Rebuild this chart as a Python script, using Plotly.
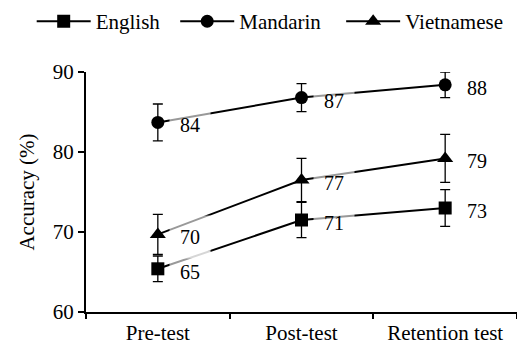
import plotly.graph_objects as go

categories = ["Pre-test", "Post-test", "Retention test"]
series_names = ["English", "Mandarin", "Vietnamese"]
english = [65.4, 71.5, 73.0]
english_err = [1.6, 2.2, 2.3]
mandarin = [83.7, 86.8, 88.4]
mandarin_err = [2.3, 1.75, 1.6]
vietnamese = [69.7, 76.5, 79.2]
vietnamese_err = [2.5, 2.7, 3.0]
english_labels = ["65", "71", "73"]
mandarin_labels = ["84", "87", "88"]
vietnamese_labels = ["70", "77", "79"]
symbols = ["square", "circle", "triangle-up"]

FONT = "Liberation Serif"
legend_ids = ["legend", "legend2", "legend3"]
legend_x = [-0.126, 0.207, 0.592]

fig = go.Figure()
data = [
    (english, english_err, english_labels),
    (mandarin, mandarin_err, mandarin_labels),
    (vietnamese, vietnamese_err, vietnamese_labels),
]
for name, sym, lid, (vals, errs, labs) in zip(series_names, symbols, legend_ids, data):
    fig.add_trace(go.Scatter(
        x=categories, y=vals, name=name, mode="lines+markers", legend=lid,
        line=dict(color="black", width=2),
        marker=dict(symbol=sym, size=13 if sym != "triangle-up" else 14, color="black"),
        error_y=dict(type="data", array=errs, visible=True, color="black", thickness=1.3, width=5),
    ))
    for c, v, t in zip(categories, vals, labs):
        fig.add_annotation(
            x=c, y=v, text=t, showarrow=False, xanchor="left", yanchor="middle",
            xshift=11, yshift=-3, font=dict(family=FONT, size=20, color="black"),
            bgcolor="rgba(255,255,255,0.6)", borderpad=10,
        )

legend_common = dict(orientation="h", xanchor="left", y=1.21, yanchor="middle",
                     font=dict(family=FONT, size=21, color="black"), itemwidth=54,
                     bgcolor="rgba(0,0,0,0)")

fig.update_layout(
    width=517, height=345,
    margin=dict(l=86, r=0, t=72, b=33),
    paper_bgcolor="white", plot_bgcolor="white",
    font=dict(family=FONT, size=21, color="black"),
    showlegend=True,
    legend=dict(x=legend_x[0], **legend_common),
    legend2=dict(x=legend_x[1], **legend_common),
    legend3=dict(x=legend_x[2], **legend_common),
    xaxis=dict(type="category", range=[-0.5, 2.5], showline=True, linecolor="black", linewidth=2,
               ticks="outside", tickson="boundaries", ticklen=5, tickwidth=2, tickcolor="black",
               showgrid=False, zeroline=False, automargin=False, ticklabelstandoff=1,
               tickfont=dict(family=FONT, size=21, color="black")),
    yaxis=dict(range=[60, 90], dtick=10, showline=True, linecolor="black", linewidth=2,
               ticks="outside", ticklen=6, tickwidth=2, tickcolor="black",
               showgrid=False, zeroline=False, automargin=False,
               title=dict(text="Accuracy (%)", standoff=12,
                          font=dict(family=FONT, size=21, color="black")),
               tickfont=dict(family=FONT, size=21, color="black")),
)

fig.write_html("out.html", config={"displayModeBar": False},
               post_script="document.body.style.margin='0';")
